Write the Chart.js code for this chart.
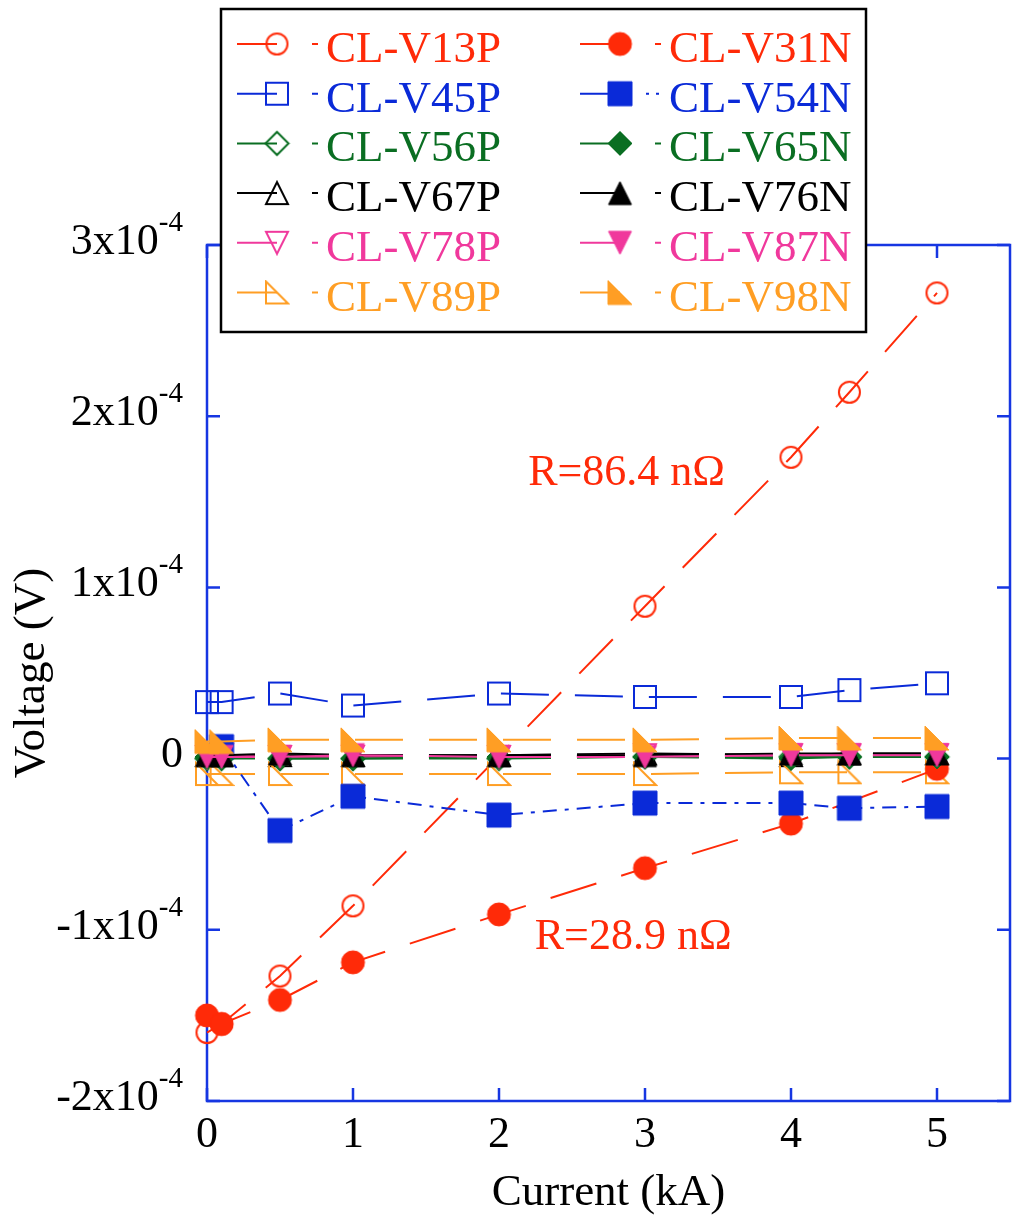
<!DOCTYPE html>
<html>
<head>
<meta charset="utf-8">
<script src="https://cdn.jsdelivr.net/npm/chart.js"></script>
<style>
  html, body { margin: 0; padding: 0; background: #fff; }
  #wrap { width: 1012px; height: 1216px; }
</style>
</head>
<body>
<div id="wrap"><canvas id="chart" width="1012" height="1216"></canvas></div>
<script>
// current in kA, voltages in units of 1e-4 V
const current = [0, 0.1, 0.5, 1, 2, 3, 4, 4.4, 5];

const V13P = [-1.60, -1.55, -1.27, -0.86, null, 0.89, 1.76, 2.14, 2.72];
const V45P = [0.33, 0.33, 0.38, 0.31, 0.38, 0.36, 0.36, 0.40, 0.44];
const V56P = [0.00, 0.00, 0.00, 0.00, 0.00, 0.01, 0.01, 0.01, 0.01];
const V67P = [0.02, 0.02, 0.02, 0.02, 0.02, 0.03, 0.02, 0.03, 0.03];
const V78P = [0.01, 0.02, 0.01, 0.01, 0.01, 0.02, 0.02, 0.02, 0.02];
const V89P = [-0.09, -0.09, -0.09, -0.09, -0.09, -0.09, -0.08, -0.08, -0.08];
const V31N = [-1.50, -1.55, -1.41, -1.19, -0.91, -0.64, -0.38, null, -0.06];
const V54N = [null, 0.07, -0.42, -0.22, -0.33, -0.26, -0.26, -0.29, -0.28];
const V65N = [0.01, 0.01, 0.00, 0.00, 0.01, 0.01, 0.00, 0.01, 0.01];
const V76N = [0.02, 0.02, 0.03, 0.02, 0.02, 0.02, 0.03, 0.03, 0.03];
const V87N = [0.01, 0.01, 0.01, 0.02, 0.01, 0.01, 0.02, 0.02, 0.02];
const V98N = [0.10, 0.10, 0.11, 0.11, 0.11, 0.11, 0.12, 0.12, 0.12];

const xTicks = [0, 1, 2, 3, 4, 5];
const yTicks = [-2, -1, 0, 1, 2, 3];
const yTickMantissa = ['-2', '-1', '0', '1', '2', '3'];
const yExponent = '-4';

const annotations = [
  { text: 'R=86.4 nΩ', x: 2.2, y: 1.6 },
  { text: 'R=28.9 nΩ', x: 2.245, y: -1.115 }
];

const RED = '#ff2a08', BLUE = '#0a2ad8', GREEN = '#0a6e22', PINK = '#f0389c', ORANGE = '#ff9e24', BLACK = '#000000';
const AXIS = '#1636e2';
const SERIF = '"Liberation Serif", "Times New Roman", serif';
const DASH = [48, 26];
const DOTDASH = [14, 8, 4, 8];

// legend column 1 then column 2; also the drawing order (later on top)
const series = [
  { name: 'CL-V13P', values: V13P, color: RED,    shape: 'circle',  filled: false, size: 21, dash: DASH },
  { name: 'CL-V45P', values: V45P, color: BLUE,   shape: 'square',  filled: false, size: 22, dash: DASH },
  { name: 'CL-V56P', values: V56P, color: GREEN,  shape: 'diamond', filled: false, size: 23, dash: DASH },
  { name: 'CL-V67P', values: V67P, color: BLACK,  shape: 'up',      filled: false, size: 22, dash: DASH },
  { name: 'CL-V78P', values: V78P, color: PINK,   shape: 'down',    filled: false, size: 22, dash: DASH },
  { name: 'CL-V89P', values: V89P, color: ORANGE, shape: 'corner',  filled: false, size: 22, dash: DASH },
  { name: 'CL-V31N', values: V31N, color: RED,    shape: 'circle',  filled: true,  size: 23, dash: DASH },
  { name: 'CL-V54N', values: V54N, color: BLUE,   shape: 'square',  filled: true,  size: 24, dash: DOTDASH },
  { name: 'CL-V65N', values: V65N, color: GREEN,  shape: 'diamond', filled: true,  size: 24, dash: DASH },
  { name: 'CL-V76N', values: V76N, color: BLACK,  shape: 'up',      filled: true,  size: 23, dash: DASH },
  { name: 'CL-V87N', values: V87N, color: PINK,   shape: 'down',    filled: true,  size: 23, dash: DASH },
  { name: 'CL-V98N', values: V98N, color: ORANGE, shape: 'corner',  filled: true,  size: 24, dash: DASH }
];

function makeMarker(shape, color, filled, size) {
  const s = size + 4;
  const c = document.createElement('canvas');
  c.width = s; c.height = s;
  const g = c.getContext('2d');
  const m = s / 2, h = size / 2;
  g.beginPath();
  switch (shape) {
    case 'circle': g.arc(m, m, h, 0, Math.PI * 2); break;
    case 'square': g.rect(m - h, m - h, size, size); break;
    case 'diamond': g.moveTo(m, m - h); g.lineTo(m + h, m); g.lineTo(m, m + h); g.lineTo(m - h, m); g.closePath(); break;
    case 'up': g.moveTo(m, m - h); g.lineTo(m + h, m + h); g.lineTo(m - h, m + h); g.closePath(); break;
    case 'down': g.moveTo(m - h, m - h); g.lineTo(m + h, m - h); g.lineTo(m, m + h); g.closePath(); break;
    case 'corner': g.moveTo(m - h, m - h); g.lineTo(m + h, m + h); g.lineTo(m - h, m + h); g.closePath(); break;
  }
  g.strokeStyle = color;
  g.fillStyle = color;
  g.lineWidth = filled ? 1 : 2;
  if (filled) g.fill();
  g.stroke();
  return c;
}

series.forEach(s => { s.marker = makeMarker(s.shape, s.color, s.filled, s.size); });

const datasets = series.map((s, i) => ({
  label: s.name,
  data: current.map((x, j) => ({ x, y: s.values[j] })),
  borderColor: s.color,
  backgroundColor: s.color,
  borderWidth: 2,
  borderDash: s.dash,
  pointStyle: s.marker,
  pointRadius: 12,
  spanGaps: true,
  clip: false,
  order: series.length - i
}));

const framePlugin = {
  id: 'frame',
  beforeDatasetsDraw(chart) {
    const { ctx, chartArea: a, scales: { x, y } } = chart;
    ctx.save();
    ctx.strokeStyle = AXIS;
    ctx.lineWidth = 2.5;
    ctx.strokeRect(a.left, a.top, a.right - a.left, a.bottom - a.top);
    ctx.beginPath();
    xTicks.forEach(v => {
      const px = x.getPixelForValue(v);
      ctx.moveTo(px, a.bottom); ctx.lineTo(px, a.bottom - 13);
      ctx.moveTo(px, a.top); ctx.lineTo(px, a.top + 13);
    });
    yTicks.forEach(v => {
      const py = y.getPixelForValue(v);
      ctx.moveTo(a.left, py); ctx.lineTo(a.left + 13, py);
      ctx.moveTo(a.right, py); ctx.lineTo(a.right - 13, py);
    });
    ctx.stroke();

    // tick labels
    ctx.fillStyle = '#000';
    ctx.font = '44px ' + SERIF;
    ctx.textAlign = 'center';
    ctx.textBaseline = 'alphabetic';
    xTicks.forEach(v => ctx.fillText(String(v), x.getPixelForValue(v), a.bottom + 46));

    ctx.textAlign = 'right';
    yTicks.forEach((v, i) => {
      const py = y.getPixelForValue(v);
      const right = a.left - 24;
      if (v === 0) {
        ctx.font = '44px ' + SERIF;
        ctx.fillText('0', right, py + 8);
        return;
      }
      ctx.font = '29px ' + SERIF;
      const w = ctx.measureText(yExponent).width;
      ctx.fillText(yExponent, right, py - 14);
      ctx.font = '44px ' + SERIF;
      ctx.fillText(yTickMantissa[i] + 'x10', right - w, py + 9);
    });

    // axis titles
    ctx.font = '45px ' + SERIF;
    ctx.textAlign = 'center';
    ctx.fillText('Current (kA)', (a.left + a.right) / 2, 1205);
    ctx.save();
    ctx.translate(44, (a.top + a.bottom) / 2);
    ctx.rotate(-Math.PI / 2);
    ctx.fillText('Voltage (V)', 0, 0);
    ctx.restore();
    ctx.restore();
  },
  afterDatasetsDraw(chart) {
    const { ctx, scales: { x, y } } = chart;
    ctx.save();
    ctx.fillStyle = RED;
    ctx.font = '44px ' + SERIF;
    ctx.textAlign = 'left';
    annotations.forEach(an => ctx.fillText(an.text, x.getPixelForValue(an.x), y.getPixelForValue(an.y)));

    // legend box
    const box = { left: 221, top: 9, right: 866, bottom: 332 };
    ctx.fillStyle = '#fff';
    ctx.fillRect(box.left, box.top, box.right - box.left, box.bottom - box.top);
    ctx.strokeStyle = '#000';
    ctx.lineWidth = 2.5;
    ctx.strokeRect(box.left, box.top, box.right - box.left, box.bottom - box.top);

    const colX = [237, 580];
    ctx.font = '45px ' + SERIF;
    series.forEach((s, i) => {
      const col = Math.floor(i / 6), row = i % 6;
      const lx = colX[col];
      const ly = 44 + 49.7 * row;
      ctx.strokeStyle = s.color;
      ctx.lineWidth = 2;
      ctx.beginPath();
      ctx.moveTo(lx, ly); ctx.lineTo(lx + 40, ly);
      if (s.dash === DOTDASH) {
        ctx.moveTo(lx + 66, ly); ctx.lineTo(lx + 69, ly);
        ctx.moveTo(lx + 76, ly); ctx.lineTo(lx + 79, ly);
      } else {
        ctx.moveTo(lx + 75, ly); ctx.lineTo(lx + 81, ly);
      }
      ctx.stroke();
      ctx.drawImage(s.marker, lx + 40 - s.marker.width / 2, ly - s.marker.height / 2);
      ctx.fillStyle = s.color;
      ctx.fillText(s.name, lx + 89, ly + 18);
    });
    ctx.restore();
  }
};

new Chart(document.getElementById('chart'), {
  type: 'line',
  data: { datasets },
  options: {
    responsive: false,
    animation: false,
    devicePixelRatio: 1,
    events: [],
    layout: { autoPadding: false, padding: { top: 245, left: 207, right: 2, bottom: 115 } },
    plugins: { legend: { display: false }, tooltip: { enabled: false } },
    scales: {
      x: { type: 'linear', min: 0, max: 5.5, display: false, ticks: { display: false } },
      y: { type: 'linear', min: -2, max: 3, display: false, ticks: { display: false } }
    }
  },
  plugins: [framePlugin]
});
</script>
</body>
</html>
